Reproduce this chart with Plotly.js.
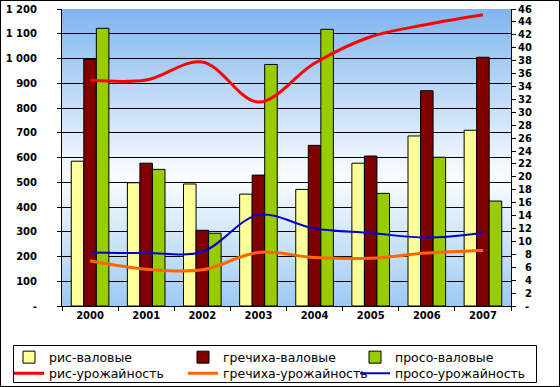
<!DOCTYPE html>
<html>
<head>
<meta charset="utf-8">
<script src="https://cdn.plot.ly/plotly-3.0.1.min.js"></script>
<style>
  html, body { margin: 0; padding: 0; background: #ffffff; }
  #wrap { position: relative; width: 560px; height: 387px; }
  #chart { width: 560px; height: 387px; }
  #frame { position: absolute; left: 0; top: 0; width: 558px; height: 385px; border: 1px solid #000; pointer-events: none; }
</style>
</head>
<body>
<div id="wrap"><div id="chart"></div><div id="frame"></div></div>
<script>
const years = ["2000", "2001", "2002", "2003", "2004", "2005", "2006", "2007"];
const riceGross = [585, 498, 493, 452, 471, 577, 687, 710];
const buckGross = [998, 577, 306, 529, 649, 606, 870, 1005];
const milletGross = [1122, 552, 294, 976, 1118, 455, 601, 424];
const riceYield = [35.0, 35.0, 37.8, 31.6, 37.6, 41.7, 43.6, 45.1];
const buckYield = [7.0, 5.7, 5.6, 8.3, 7.5, 7.4, 8.2, 8.6];
const milletYield = [8.3, 8.2, 8.4, 14.1, 12.0, 11.3, 10.6, 11.3];
const seriesNames = ["рис-валовые", "гречиха-валовые", "просо-валовые",
                     "рис-урожайность", "гречиха-урожайность", "просо-урожайность"];
const leftTickVals = [0, 100, 200, 300, 400, 500, 600, 700, 800, 900, 1000, 1100, 1200];
const leftTickText = ["-", "100", "200", "300", "400", "500", "600", "700", "800", "900", "1 000", "1 100", "1 200"];
const rightTickVals = [0, 2, 4, 6, 8, 10, 12, 14, 16, 18, 20, 22, 24, 26, 28, 30, 32, 34, 36, 38, 40, 42, 44, 46];
const rightTickText = ["\u2007-", "\u20072", "\u20074", "\u20076", "\u20078", "10", "12", "14", "16", "18", "20", "22", "24", "26", "28", "30", "32", "34", "36", "38", "40", "42", "44", "46"];

const barLine = { color: "#000000", width: 1 };
const traces = [
  { type: "bar", name: seriesNames[0], x: years, y: riceGross, legend: "legend",
    marker: { color: "#ffff99", line: barLine } },
  { type: "bar", name: seriesNames[1], x: years, y: buckGross, legend: "legend2",
    marker: { color: "#800000", line: barLine } },
  { type: "bar", name: seriesNames[2], x: years, y: milletGross, legend: "legend3",
    marker: { color: "#99cc00", line: barLine } },
  { type: "scatter", mode: "lines", name: seriesNames[3], x: years, y: riceYield, yaxis: "y2", legend: "legend4",
    line: { color: "#ff0000", width: 3, shape: "spline", smoothing: 1 } },
  { type: "scatter", mode: "lines", name: seriesNames[4], x: years, y: buckYield, yaxis: "y2", legend: "legend5",
    line: { color: "#ff6600", width: 3, shape: "spline", smoothing: 1 } },
  { type: "scatter", mode: "lines", name: seriesNames[5], x: years, y: milletYield, yaxis: "y2", legend: "legend6",
    line: { color: "#0000cc", width: 2, shape: "spline", smoothing: 1 } }
];

const grad = '<svg xmlns="http://www.w3.org/2000/svg" width="100" height="100" preserveAspectRatio="none">' +
  '<defs><linearGradient id="g" x1="0" y1="0" x2="0" y2="1">' +
  '<stop offset="0" stop-color="#80b6ef"/>' +
  '<stop offset="0.57" stop-color="#fbfdff"/>' +
  '<stop offset="1" stop-color="#9ccaf3"/>' +
  '</linearGradient></defs><rect width="100" height="100" fill="url(#g)"/></svg>';
const gradSrc = "data:image/svg+xml;base64," + btoa(grad);

const tickFont = { family: "DejaVu Sans", size: 10, color: "#000000", weight: "bold" };

// plot area in pixels: l=62, w=449, t=9, h=297
const PL = 62, PW = 449, PB = 306, PH = 297;
const px = v => (v - PL) / PW;
const py = v => -(v - PB) / PH;

const legendBase = {
  orientation: "v", xanchor: "left", yanchor: "top",
  bgcolor: "rgba(0,0,0,0)", borderwidth: 0, itemwidth: 30,
  font: { family: "DejaVu Sans", size: 12.5, color: "#000000" },
  traceorder: "normal", tracegroupgap: 0
};
const colX = [9, 183, 355];
const rowY = [342.5, 358.5];
const mkLegend = (c, r) => Object.assign({}, legendBase, { x: px(colX[c]), y: py(rowY[r]) });

const layout = {
  width: 560, height: 387,
  margin: { l: 62, r: 49, t: 9, b: 81, pad: 0, autoexpand: false },
  paper_bgcolor: "#ffffff",
  plot_bgcolor: "rgba(0,0,0,0)",
  showlegend: true,
  barmode: "group",
  bargap: 0.33,
  bargroupgap: 0,
  font: { family: "DejaVu Sans", size: 11, color: "#000000" },
  images: [{ source: gradSrc, xref: "paper", yref: "paper", x: 0, y: 1, sizex: 1, sizey: 1,
             sizing: "stretch", xanchor: "left", yanchor: "top", layer: "below" }],
  shapes: [{ type: "rect", xref: "paper", yref: "paper",
             x0: px(13.5), x1: px(536.5), y0: py(382.5), y1: py(345.5),
             line: { color: "#000000", width: 1 }, fillcolor: "rgba(0,0,0,0)" }],
  xaxis: {
    type: "category", tickson: "boundaries", ticks: "outside", ticklen: 4, tickcolor: "#000",
    showline: true, linecolor: "#000", linewidth: 1, showgrid: false,
    tickfont: tickFont, fixedrange: true
  },
  yaxis: {
    range: [0, 1200], tickvals: leftTickVals, ticktext: leftTickText,
    ticks: "outside", ticklen: 4, tickcolor: "#000", ticklabelstandoff: 18,
    showline: true, linecolor: "#000", linewidth: 1,
    showgrid: true, gridcolor: "#000000", gridwidth: 1, zeroline: false,
    tickfont: tickFont, fixedrange: true
  },
  yaxis2: {
    overlaying: "y", side: "right", range: [0, 46], tickvals: rightTickVals, ticktext: rightTickText,
    ticks: "outside", ticklen: 4, tickcolor: "#000",
    showline: true, linecolor: "#000", linewidth: 1, showgrid: false, zeroline: false,
    tickfont: tickFont, fixedrange: true
  },
  legend: mkLegend(0, 0),
  legend2: mkLegend(1, 0),
  legend3: mkLegend(2, 0),
  legend4: mkLegend(0, 1),
  legend5: mkLegend(1, 1),
  legend6: mkLegend(2, 1)
};

Plotly.newPlot("chart", traces, layout, { displayModeBar: false, staticPlot: true });
</script>
</body>
</html>
